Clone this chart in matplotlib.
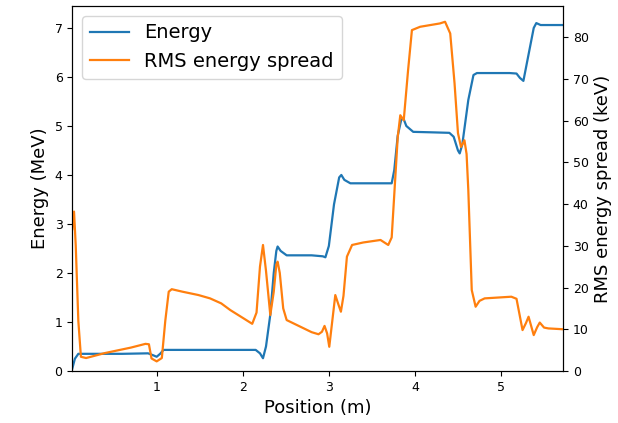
import numpy as np
import matplotlib
matplotlib.use("Agg")
import matplotlib.pyplot as plt

# energy along the beamline (MeV)
pos_energy = [0.02, 0.05, 0.09, 0.30, 0.60, 0.90, 0.96, 1.00, 1.04, 1.08, 1.50, 2.00, 2.15, 2.20, 2.235,
              2.27, 2.32, 2.36, 2.39, 2.405, 2.44, 2.51, 2.80, 2.93, 2.96, 3.00, 3.06, 3.12, 3.145, 3.18,
              3.25, 3.50, 3.73, 3.76, 3.80, 3.84, 3.865, 3.90, 3.98, 4.20, 4.40, 4.45, 4.50, 4.52, 4.55,
              4.62, 4.68, 4.72, 5.10, 5.18, 5.22, 5.26, 5.33, 5.38, 5.41, 5.46, 5.72]
energy = [0.05, 0.25, 0.35, 0.35, 0.35, 0.36, 0.32, 0.29, 0.35, 0.43, 0.43, 0.43, 0.43, 0.36, 0.26,
          0.50, 1.15, 2.00, 2.45, 2.54, 2.45, 2.36, 2.36, 2.34, 2.32, 2.55, 3.40, 3.95, 4.00, 3.90,
          3.83, 3.83, 3.83, 4.10, 4.80, 5.12, 5.16, 5.00, 4.88, 4.87, 4.86, 4.78, 4.50, 4.44, 4.62,
          5.53, 6.04, 6.08, 6.08, 6.07, 5.98, 5.92, 6.55, 7.00, 7.10, 7.06, 7.06]

# RMS energy spread (keV)
pos_spread = [0.02, 0.04, 0.06, 0.09, 0.12, 0.18, 0.40, 0.70, 0.87, 0.91, 0.94, 1.00, 1.06, 1.10, 1.14,
              1.175, 1.30, 1.485, 1.62, 1.75, 1.855, 2.01, 2.11, 2.16, 2.20, 2.235, 2.27, 2.32, 2.36,
              2.39, 2.405, 2.43, 2.47, 2.51, 2.67, 2.80, 2.88, 2.92, 2.95, 2.98, 3.005, 3.04, 3.075,
              3.11, 3.14, 3.17, 3.21, 3.27, 3.40, 3.60, 3.69, 3.73, 3.77, 3.80, 3.83, 3.87, 3.92,
              3.965, 4.06, 4.29, 4.35, 4.41, 4.46, 4.50, 4.535, 4.575, 4.60, 4.62, 4.66, 4.705,
              4.75, 4.81, 5.12, 5.18, 5.25, 5.29, 5.32, 5.35, 5.38, 5.42, 5.45, 5.50, 5.55, 5.72]
spread = [34.0, 38.2, 30.0, 12.0, 3.4, 3.1, 4.3, 5.6, 6.5, 6.4, 3.0, 2.3, 3.1, 12.0, 19.0,
          19.6, 19.0, 18.2, 17.4, 16.2, 14.6, 12.6, 11.3, 14.0, 25.0, 30.2, 24.0, 13.4, 19.0,
          25.5, 26.2, 23.5, 15.0, 12.2, 10.6, 9.3, 8.8, 9.4, 10.8, 9.0, 5.8, 12.0, 18.2,
          16.0, 14.2, 18.0, 27.4, 30.2, 30.8, 31.4, 30.2, 32.0, 45.7, 56.0, 61.3, 60.1, 72.0,
          81.7, 82.5, 83.3, 83.7, 80.9, 69.0, 57.0, 53.7, 55.3, 52.0, 43.4, 19.4, 15.4,
          16.8, 17.4, 17.8, 17.3, 9.8, 11.5, 13.0, 10.8, 8.6, 10.5, 11.6, 10.4, 10.2, 10.0]

fig, ax = plt.subplots(figsize=(6.18, 4.23), dpi=100)
fig.subplots_adjust(left=0.117, right=0.911, top=0.986, bottom=0.123)

l1, = ax.plot(pos_energy, energy, color="tab:blue", lw=1.6, label="Energy")
ax.set_xlim(0.02, 5.72)
ax.set_ylim(0, 7.45)
ax.set_xlabel("Position (m)", fontsize=13)
ax.set_ylabel("Energy (MeV)", fontsize=13)
ax.set_xticks([1, 2, 3, 4, 5])

ax2 = ax.twinx()
l2, = ax2.plot(pos_spread, spread, color="tab:orange", lw=1.6, label="RMS energy spread")
ax2.set_ylim(0, 87.5)
ax2.set_ylabel("RMS energy spread (keV)", fontsize=13)

for a in (ax, ax2):
    a.tick_params(labelsize=9)

ax.legend(handles=[l1, l2], loc="upper left", fontsize=14)

fig.savefig("out.png", dpi=100)
